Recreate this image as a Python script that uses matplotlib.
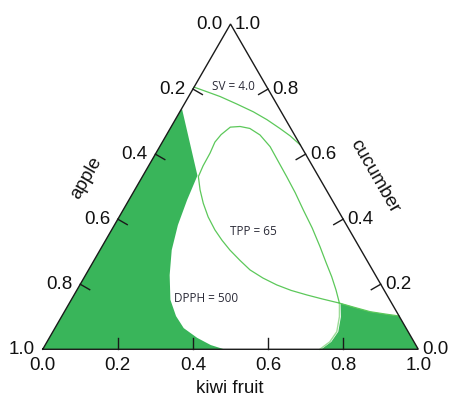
import matplotlib
matplotlib.use("Agg")
import matplotlib.pyplot as plt
import numpy as np

# ── Compositions: (kiwi fruit, cucumber); apple = 1 - both ──
# DPPH = 500 boundary of the green area on the left (left edge -> bottom edge)
dpph_left_kiwi = [0.0, 0.145, 0.155, 0.169, 0.191, 0.224, 0.264, 0.304, 0.343, 0.394, 0.441, 0.483]
dpph_left_cuc = [0.741, 0.534, 0.459, 0.382, 0.305, 0.228, 0.152, 0.102, 0.065, 0.035, 0.013, 0.0]

# green area in the kiwi-fruit corner (bottom edge -> right edge -> kiwi vertex)
right_fill_kiwi = [0.742, 0.747, 0.757, 0.760, 0.744, 0.722, 0.767, 0.814, 0.857, 0.898, 1.0]
right_fill_cuc = [0.0, 0.008, 0.023, 0.054, 0.100, 0.142, 0.1285, 0.1156, 0.1085, 0.102, 0.0]

# TPP = 65 contour (bottom edge, up the right side, round the top, back to the right edge)
tpp_kiwi = [0.738, 0.743, 0.753, 0.756, 0.740, 0.719, 0.690, 0.658, 0.620, 0.581, 0.531,
            0.480, 0.432, 0.384, 0.337, 0.294, 0.249, 0.212, 0.183, 0.158, 0.145, 0.140,
            0.144, 0.145, 0.149, 0.174, 0.203, 0.237, 0.275, 0.310, 0.346, 0.389, 0.430,
            0.477, 0.524, 0.571, 0.620, 0.666, 0.719, 0.767, 0.814, 0.857, 0.8976]
tpp_cuc = [0.0, 0.008, 0.023, 0.054, 0.100, 0.142, 0.182, 0.223, 0.268, 0.315, 0.373,
           0.428, 0.481, 0.531, 0.579, 0.623, 0.659, 0.679, 0.685, 0.683, 0.660, 0.637,
           0.603, 0.564, 0.531, 0.490, 0.449, 0.407, 0.367, 0.335, 0.305, 0.273, 0.244,
           0.219, 0.198, 0.181, 0.167, 0.155, 0.142, 0.1285, 0.1156, 0.1085, 0.1024]

# SV = 4.0 contour (left edge -> right edge)
sv_kiwi = [0.0, 0.035, 0.084, 0.140, 0.196, 0.244, 0.292, 0.331, 0.372]
sv_cuc = [0.806, 0.794, 0.777, 0.754, 0.730, 0.706, 0.679, 0.656, 0.628]

tick_values = [0.0, 0.2, 0.4, 0.6, 0.8, 1.0]
tick_labels = ["0.0", "0.2", "0.4", "0.6", "0.8", "1.0"]

contour_labels = ["SV = 4.0", "TPP = 65", "DPPH = 500"]
axis_titles = ["kiwi fruit", "apple", "cucumber"]

FILL = "#39b55a"
LINE = "#5cc85a"
PALE = "#9ddc98"
EDGE = "#1a1a1a"
TXT = "#2b2b38"
H = np.sqrt(3) / 2


def cart(kiwi, cuc):
    kiwi = np.asarray(kiwi, dtype=float)
    cuc = np.asarray(cuc, dtype=float)
    return kiwi + cuc / 2, cuc * H


fig = plt.figure(figsize=(4.51, 3.98), dpi=100)
ax = fig.add_axes([0, 0, 1, 1])
ax.set_xlim(-0.1137, 1.0871)
ax.set_ylim(-0.1297, 0.9300)
ax.set_aspect("equal")
ax.axis("off")

# green areas
x, y = cart(dpph_left_kiwi + [0.0], dpph_left_cuc + [0.0])
ax.fill(x, y, color=FILL, lw=0, zorder=1)
x, y = cart(right_fill_kiwi, right_fill_cuc)
ax.fill(x, y, color=FILL, lw=0, zorder=1)

# contours
x, y = cart(tpp_kiwi, tpp_cuc)
ax.plot(x[:6], y[:6], color=PALE, lw=1.0, zorder=2)
ax.plot(x[5:], y[5:], color=LINE, lw=0.9, zorder=2)
x, y = cart(sv_kiwi, sv_cuc)
ax.plot(x, y, color=LINE, lw=0.9, zorder=2)

# triangle frame
x, y = cart([0, 1, 0, 0], [0, 0, 1, 0])
ax.plot(x, y, color=EDGE, lw=1.0, zorder=4, solid_joinstyle="miter")

# ticks (perpendicular to each edge, pointing inward) and labels
L = 0.029
tfont = dict(family=["Liberation Sans", "DejaVu Sans"], fontsize=13.5, color="#111111")
for v, lab in zip(tick_values, tick_labels):
    # bottom: kiwi fruit
    bx, by = cart(v, 0.0)
    if 0 < v < 1:
        ax.plot([bx, bx], [by, by + L], color=EDGE, lw=1.0, zorder=4)
    ax.annotate(lab, (bx, by), xytext=(0, -12), textcoords="offset points",
                ha="center", va="center", **tfont)
    # left: apple
    lx, ly = cart(0.0, 1 - v)
    if 0 < v < 1:
        ax.plot([lx, lx + L * H], [ly, ly - L / 2], color=EDGE, lw=1.0, zorder=4)
    ax.annotate(lab, (lx, ly), xytext=(-5.5, 0), textcoords="offset points",
                ha="right", va="center", **tfont)
    # right: cucumber
    rx, ry = cart(1 - v, v)
    if 0 < v < 1:
        ax.plot([rx, rx - L * H], [ry, ry - L / 2], color=EDGE, lw=1.0, zorder=4)
    ax.annotate(lab, (rx, ry), xytext=(3, 0), textcoords="offset points",
                ha="left", va="center", **tfont)

# axis titles
ax.text(0.4987, -0.1057, axis_titles[0], ha="center", va="center", **tfont)
ax.text(0.117, 0.456, axis_titles[1], ha="center", va="center", rotation=60, **tfont)
ax.text(0.8847, 0.4595, axis_titles[2], ha="center", va="center", rotation=-60, **tfont)

# contour labels
cfont = dict(family=["Open Sans", "DejaVu Sans"], fontsize=8.5, color=TXT, zorder=5)
ax.text(0.5078, 0.699, contour_labels[0], ha="center", va="center", **cfont)
ax.text(0.5607, 0.3131, contour_labels[1], ha="center", va="center", **cfont)
ax.text(0.4354, 0.1358, contour_labels[2], ha="center", va="center", **cfont)

fig.savefig("out.png", dpi=100)
